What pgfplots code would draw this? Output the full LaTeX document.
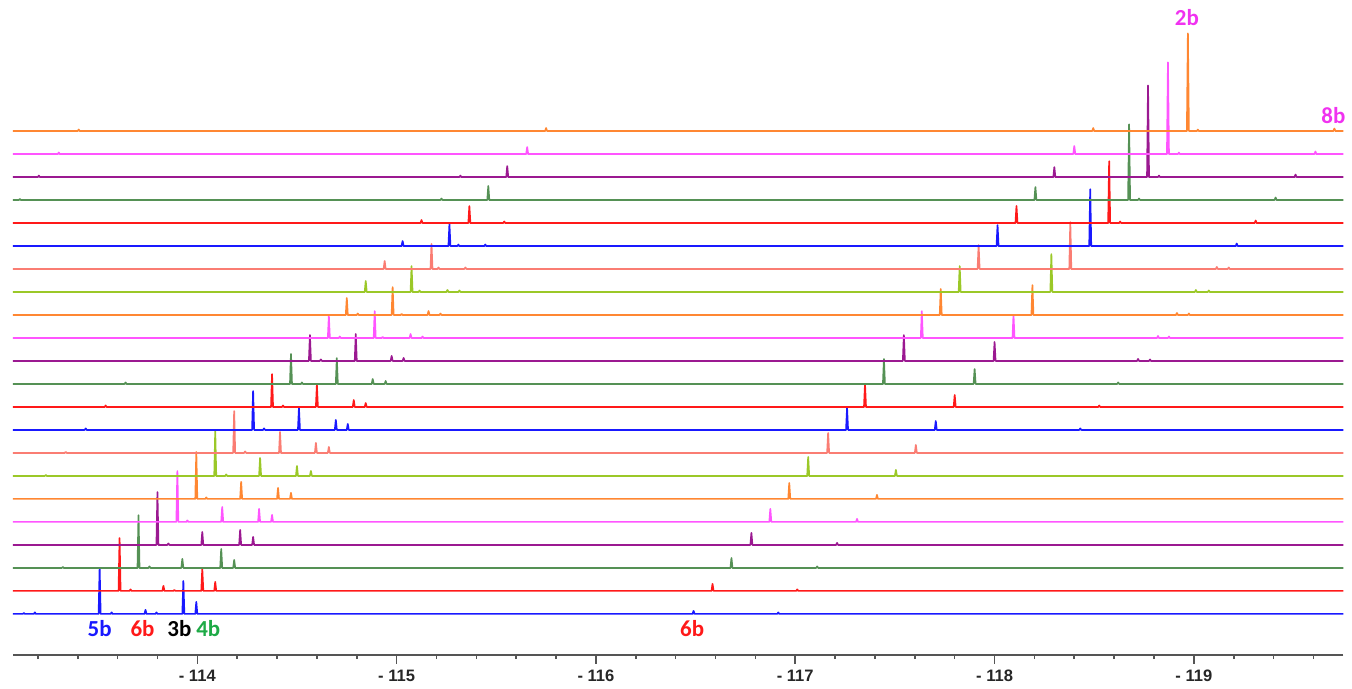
\documentclass[border=0pt]{standalone}
\usepackage{pgfplots}
\pgfplotsset{compat=1.18}
\usepackage{fontspec}
\setmainfont{Liberation Sans}
\newfontfamily\calfont{Carlito}
\definecolor{cBlue}{RGB}{25,25,255}
\definecolor{cRed}{RGB}{255,25,25}
\definecolor{cGreen}{RGB}{85,145,85}
\definecolor{cPurple}{RGB}{155,25,145}
\definecolor{cMagenta}{RGB}{255,85,255}
\definecolor{cOrange}{RGB}{255,135,50}
\definecolor{cYG}{RGB}{155,200,40}
\definecolor{cSalmon}{RGB}{250,125,115}
\definecolor{lGreen}{RGB}{30,170,70}
\definecolor{lMag}{RGB}{240,50,240}
\definecolor{axgray}{RGB}{85,85,85}
\begin{document}
\begin{tikzpicture}
\begin{axis}[
  x=100pt, y=0.5pt,
  x dir=reverse,
  xmin=-119.75, xmax=-113.075,
  ymin=0, ymax=657,
  clip=false,
  axis x line*=bottom,
  axis y line=none,
  ytick=\empty,
  x axis line style={axgray, line width=0.9pt, -},
  xtick={-114,-115,-116,-117,-118,-119},
  xticklabels={- 114,- 115,- 116,- 117,- 118,- 119},
  minor xtick={-113.2,-113.4,-113.6,-113.8,-114.2,-114.4,-114.6,-114.8,-115.2,-115.4,-115.6,-115.8,-116.2,-116.4,-116.6,-116.8,-117.2,-117.4,-117.6,-117.8,-118.2,-118.4,-118.6,-118.8,-119.2,-119.4,-119.6},
  tick align=outside,
  major tick length=4.5pt,
  minor tick length=2.2pt,
  every tick/.style={axgray, line width=0.8pt},
  xticklabel style={font=\fontsize{8.3}{9}\selectfont\bfseries, text=black!85, yshift=0.5pt},
  every axis plot/.append style={line width=0.85pt, line join=round, mark=none},
]
% spectrum 0 (blue)
\addplot[cBlue] table[row sep=\\, y expr=\thisrow{y}+41] {x y\\
-113.075 0\\
-113.125 0\\ -113.13 1\\ -113.135 0\\
-113.18 0\\ -113.185 1.5\\ -113.19 0\\
-113.505 0\\ -113.51 46\\ -113.515 0\\
-113.565 0\\ -113.57 1.5\\ -113.575 0\\
-113.735 0\\ -113.74 4\\ -113.745 0\\
-113.79 0\\ -113.795 1.5\\ -113.8 0\\
-113.925 0\\ -113.93 33\\ -113.935 0\\
-113.99 0\\ -113.995 12\\ -114 0\\
-116.485 0\\ -116.49 3\\ -116.495 0\\
-116.91 0\\ -116.915 1.5\\ -116.92 0\\
-119.75 0\\
};
% spectrum 1 (red)
\addplot[cRed] table[row sep=\\, y expr=\thisrow{y}+64.1] {x y\\
-113.075 0\\
-113.605 0\\ -113.61 53\\ -113.615 0\\
-113.66 0\\ -113.665 1.5\\ -113.67 0\\
-113.825 0\\ -113.83 5\\ -113.835 0\\
-113.88 0\\ -113.885 1\\ -113.89 0\\
-114.02 0\\ -114.025 22\\ -114.03 0\\
-114.085 0\\ -114.09 9\\ -114.095 0\\
-116.58 0\\ -116.585 7\\ -116.59 0\\
-117.005 0\\ -117.01 1.5\\ -117.015 0\\
-119.75 0\\
};
% spectrum 2 (green)
\addplot[cGreen] table[row sep=\\, y expr=\thisrow{y}+87.1] {x y\\
-113.075 0\\
-113.32 0\\ -113.325 1\\ -113.33 0\\
-113.7 0\\ -113.705 53\\ -113.71 0\\
-113.755 0\\ -113.76 1.5\\ -113.765 0\\
-113.92 0\\ -113.925 9\\ -113.93 0\\
-114.115 0\\ -114.12 19\\ -114.125 0\\
-114.18 0\\ -114.185 8\\ -114.19 0\\
-116.675 0\\ -116.68 10\\ -116.685 0\\
-117.105 0\\ -117.11 1.5\\ -117.115 0\\
-119.75 0\\
};
% spectrum 3 (purple)
\addplot[cPurple] table[row sep=\\, y expr=\thisrow{y}+110.2] {x y\\
-113.075 0\\
-113.795 0\\ -113.8 53\\ -113.805 0\\
-113.85 0\\ -113.855 1.5\\ -113.86 0\\
-114.02 0\\ -114.025 13\\ -114.03 0\\
-114.21 0\\ -114.215 15\\ -114.22 0\\
-114.275 0\\ -114.28 8\\ -114.285 0\\
-116.775 0\\ -116.78 12\\ -116.785 0\\
-117.205 0\\ -117.21 2\\ -117.215 0\\
-119.75 0\\
};
% spectrum 4 (magenta)
\addplot[cMagenta] table[row sep=\\, y expr=\thisrow{y}+133.3] {x y\\
-113.075 0\\
-113.895 0\\ -113.9 51\\ -113.905 0\\
-113.945 0\\ -113.95 1.5\\ -113.955 0\\
-114.12 0\\ -114.125 15\\ -114.13 0\\
-114.305 0\\ -114.31 13\\ -114.315 0\\
-114.37 0\\ -114.375 7\\ -114.38 0\\
-116.87 0\\ -116.875 13\\ -116.88 0\\
-117.305 0\\ -117.31 3\\ -117.315 0\\
-119.75 0\\
};
% spectrum 5 (orange)
\addplot[cOrange] table[row sep=\\, y expr=\thisrow{y}+156.4] {x y\\
-113.075 0\\
-113.99 0\\ -113.995 47\\ -114 0\\
-114.04 0\\ -114.045 1.5\\ -114.05 0\\
-114.215 0\\ -114.22 17\\ -114.225 0\\
-114.4 0\\ -114.405 11\\ -114.41 0\\
-114.465 0\\ -114.47 6\\ -114.475 0\\
-116.965 0\\ -116.97 16\\ -116.975 0\\
-117.405 0\\ -117.41 4\\ -117.415 0\\
-119.75 0\\
};
% spectrum 6 (yellow-green)
\addplot[cYG] table[row sep=\\, y expr=\thisrow{y}+179.4] {x y\\
-113.075 0\\
-113.235 0\\ -113.24 1\\ -113.245 0\\
-114.085 0\\ -114.09 45\\ -114.095 0\\
-114.14 0\\ -114.145 1.5\\ -114.15 0\\
-114.31 0\\ -114.315 18\\ -114.32 0\\
-114.495 0\\ -114.5 10\\ -114.505 0\\
-114.565 0\\ -114.57 5\\ -114.575 0\\
-117.06 0\\ -117.065 19\\ -117.07 0\\
-117.5 0\\ -117.505 6\\ -117.51 0\\
-119.75 0\\
};
% spectrum 7 (salmon)
\addplot[cSalmon] table[row sep=\\, y expr=\thisrow{y}+202.5] {x y\\
-113.075 0\\
-113.335 0\\ -113.34 1\\ -113.345 0\\
-114.18 0\\ -114.185 42\\ -114.19 0\\
-114.235 0\\ -114.24 1.5\\ -114.245 0\\
-114.41 0\\ -114.415 21\\ -114.42 0\\
-114.59 0\\ -114.595 10\\ -114.6 0\\
-114.655 0\\ -114.66 6\\ -114.665 0\\
-117.16 0\\ -117.165 20\\ -117.17 0\\
-117.6 0\\ -117.605 8\\ -117.61 0\\
-119.75 0\\
};
% spectrum 8 (blue)
\addplot[cBlue] table[row sep=\\, y expr=\thisrow{y}+225.6] {x y\\
-113.075 0\\
-113.435 0\\ -113.44 1.5\\ -113.445 0\\
-114.275 0\\ -114.28 39\\ -114.285 0\\
-114.33 0\\ -114.335 1.5\\ -114.34 0\\
-114.505 0\\ -114.51 22\\ -114.515 0\\
-114.69 0\\ -114.695 10\\ -114.7 0\\
-114.75 0\\ -114.755 6\\ -114.76 0\\
-117.255 0\\ -117.26 22\\ -117.265 0\\
-117.7 0\\ -117.705 9\\ -117.71 0\\
-118.425 0\\ -118.43 1.5\\ -118.435 0\\
-119.75 0\\
};
% spectrum 9 (red)
\addplot[cRed] table[row sep=\\, y expr=\thisrow{y}+248.6] {x y\\
-113.075 0\\
-113.535 0\\ -113.54 1.5\\ -113.545 0\\
-114.37 0\\ -114.375 33\\ -114.38 0\\
-114.425 0\\ -114.43 1.5\\ -114.435 0\\
-114.595 0\\ -114.6 22\\ -114.605 0\\
-114.78 0\\ -114.785 7\\ -114.79 0\\
-114.84 0\\ -114.845 4\\ -114.85 0\\
-117.345 0\\ -117.35 23\\ -117.355 0\\
-117.795 0\\ -117.8 12\\ -117.805 0\\
-118.52 0\\ -118.525 1.5\\ -118.53 0\\
-119.75 0\\
};
% spectrum 10 (green)
\addplot[cGreen] table[row sep=\\, y expr=\thisrow{y}+271.7] {x y\\
-113.075 0\\
-113.635 0\\ -113.64 1.5\\ -113.645 0\\
-114.465 0\\ -114.47 30\\ -114.475 0\\
-114.52 0\\ -114.525 1.5\\ -114.53 0\\
-114.695 0\\ -114.7 26\\ -114.705 0\\
-114.875 0\\ -114.88 5\\ -114.885 0\\
-114.94 0\\ -114.945 3\\ -114.95 0\\
-117.44 0\\ -117.445 25\\ -117.45 0\\
-117.895 0\\ -117.9 15\\ -117.905 0\\
-118.615 0\\ -118.62 1.5\\ -118.625 0\\
-119.75 0\\
};
% spectrum 11 (purple)
\addplot[cPurple] table[row sep=\\, y expr=\thisrow{y}+294.8] {x y\\
-113.075 0\\
-114.56 0\\ -114.565 26\\ -114.57 0\\
-114.615 0\\ -114.62 1.5\\ -114.625 0\\
-114.79 0\\ -114.795 27\\ -114.8 0\\
-114.97 0\\ -114.975 5\\ -114.98 0\\
-115.03 0\\ -115.035 3\\ -115.04 0\\
-117.54 0\\ -117.545 26\\ -117.55 0\\
-117.995 0\\ -118 19\\ -118.005 0\\
-118.715 0\\ -118.72 2\\ -118.725 0\\
-118.775 0\\ -118.78 1.5\\ -118.785 0\\
-119.75 0\\
};
% spectrum 12 (magenta)
\addplot[cMagenta] table[row sep=\\, y expr=\thisrow{y}+317.8] {x y\\
-113.075 0\\
-114.655 0\\ -114.66 22\\ -114.665 0\\
-114.71 0\\ -114.715 1.5\\ -114.72 0\\
-114.885 0\\ -114.89 27\\ -114.895 0\\
-114.925 0\\ -114.93 1\\ -114.935 0\\
-115.065 0\\ -115.07 4\\ -115.075 0\\
-115.125 0\\ -115.13 1.5\\ -115.135 0\\
-117.63 0\\ -117.635 27\\ -117.64 0\\
-118.09 0\\ -118.095 23\\ -118.1 0\\
-118.815 0\\ -118.82 2\\ -118.825 0\\
-118.87 0\\ -118.875 1.5\\ -118.88 0\\
-119.75 0\\
};
% spectrum 13 (orange)
\addplot[cOrange] table[row sep=\\, y expr=\thisrow{y}+340.9] {x y\\
-113.075 0\\
-114.745 0\\ -114.75 17\\ -114.755 0\\
-114.8 0\\ -114.805 1.5\\ -114.81 0\\
-114.975 0\\ -114.98 28\\ -114.985 0\\
-115.02 0\\ -115.025 1\\ -115.03 0\\
-115.155 0\\ -115.16 4\\ -115.165 0\\
-115.215 0\\ -115.22 1.5\\ -115.225 0\\
-117.725 0\\ -117.73 26\\ -117.735 0\\
-118.185 0\\ -118.19 30\\ -118.195 0\\
-118.91 0\\ -118.915 2\\ -118.92 0\\
-118.97 0\\ -118.975 1.5\\ -118.98 0\\
-119.75 0\\
};
% spectrum 14 (yellow-green)
\addplot[cYG] table[row sep=\\, y expr=\thisrow{y}+364] {x y\\
-113.075 0\\
-114.84 0\\ -114.845 11\\ -114.85 0\\
-115.07 0\\ -115.075 26\\ -115.08 0\\
-115.11 0\\ -115.115 1.5\\ -115.12 0\\
-115.25 0\\ -115.255 2\\ -115.26 0\\
-115.31 0\\ -115.315 1.5\\ -115.32 0\\
-117.82 0\\ -117.825 26\\ -117.83 0\\
-118.28 0\\ -118.285 38\\ -118.29 0\\
-119.005 0\\ -119.01 2\\ -119.015 0\\
-119.07 0\\ -119.075 1.5\\ -119.08 0\\
-119.75 0\\
};
% spectrum 15 (salmon)
\addplot[cSalmon] table[row sep=\\, y expr=\thisrow{y}+387.1] {x y\\
-113.075 0\\
-114.935 0\\ -114.94 8\\ -114.945 0\\
-115.17 0\\ -115.175 25\\ -115.18 0\\
-115.205 0\\ -115.21 1.5\\ -115.215 0\\
-115.34 0\\ -115.345 1.5\\ -115.35 0\\
-117.915 0\\ -117.92 24\\ -117.925 0\\
-118.375 0\\ -118.38 47\\ -118.385 0\\
-119.11 0\\ -119.115 2\\ -119.12 0\\
-119.17 0\\ -119.175 1.5\\ -119.18 0\\
-119.75 0\\
};
% spectrum 16 (blue)
\addplot[cBlue] table[row sep=\\, y expr=\thisrow{y}+410.1] {x y\\
-113.075 0\\
-115.025 0\\ -115.03 5\\ -115.035 0\\
-115.26 0\\ -115.265 22\\ -115.27 0\\
-115.305 0\\ -115.31 1.5\\ -115.315 0\\
-115.44 0\\ -115.445 1.5\\ -115.45 0\\
-118.01 0\\ -118.015 21\\ -118.02 0\\
-118.475 0\\ -118.48 57\\ -118.485 0\\
-119.21 0\\ -119.215 2.5\\ -119.22 0\\
-119.75 0\\
};
% spectrum 17 (red)
\addplot[cRed] table[row sep=\\, y expr=\thisrow{y}+433.2] {x y\\
-113.075 0\\
-115.12 0\\ -115.125 3\\ -115.13 0\\
-115.36 0\\ -115.365 17\\ -115.37 0\\
-115.535 0\\ -115.54 1.5\\ -115.545 0\\
-118.105 0\\ -118.11 17\\ -118.115 0\\
-118.57 0\\ -118.575 62\\ -118.58 0\\
-118.625 0\\ -118.63 1.5\\ -118.635 0\\
-119.305 0\\ -119.31 2.5\\ -119.315 0\\
-119.75 0\\
};
% spectrum 18 (green)
\addplot[cGreen] table[row sep=\\, y expr=\thisrow{y}+456.3] {x y\\
-113.075 0\\
-113.105 0\\ -113.11 1\\ -113.115 0\\
-115.22 0\\ -115.225 1.5\\ -115.23 0\\
-115.455 0\\ -115.46 14\\ -115.465 0\\
-118.2 0\\ -118.205 13\\ -118.21 0\\
-118.67 0\\ -118.675 76\\ -118.68 0\\
-118.72 0\\ -118.725 1.5\\ -118.73 0\\
-119.405 0\\ -119.41 2.5\\ -119.415 0\\
-119.75 0\\
};
% spectrum 19 (purple)
\addplot[cPurple] table[row sep=\\, y expr=\thisrow{y}+479.3] {x y\\
-113.075 0\\
-113.2 0\\ -113.205 1.5\\ -113.21 0\\
-115.315 0\\ -115.32 1.5\\ -115.325 0\\
-115.55 0\\ -115.555 11\\ -115.56 0\\
-118.295 0\\ -118.3 10\\ -118.305 0\\
-118.765 0\\ -118.77 92\\ -118.775 0\\
-118.82 0\\ -118.825 1.5\\ -118.83 0\\
-119.505 0\\ -119.51 2.5\\ -119.515 0\\
-119.75 0\\
};
% spectrum 20 (magenta)
\addplot[cMagenta] table[row sep=\\, y expr=\thisrow{y}+502.4] {x y\\
-113.075 0\\
-113.3 0\\ -113.305 1.5\\ -113.31 0\\
-115.65 0\\ -115.655 7\\ -115.66 0\\
-118.395 0\\ -118.4 8\\ -118.405 0\\
-118.865 0\\ -118.87 92\\ -118.875 0\\
-118.92 0\\ -118.925 1.5\\ -118.93 0\\
-119.605 0\\ -119.61 2.5\\ -119.615 0\\
-119.75 0\\
};
% spectrum 21 (orange)
\addplot[cOrange] table[row sep=\\, y expr=\thisrow{y}+525.5] {x y\\
-113.075 0\\
-113.4 0\\ -113.405 1.5\\ -113.41 0\\
-115.745 0\\ -115.75 3\\ -115.755 0\\
-118.49 0\\ -118.495 3\\ -118.5 0\\
-118.965 0\\ -118.97 98\\ -118.975 0\\
-119.015 0\\ -119.02 1.5\\ -119.025 0\\
-119.7 0\\ -119.705 2.5\\ -119.71 0\\
-119.75 0\\
};
% labels
\node[font=\calfont\bfseries\fontsize{11.5}{13}\selectfont, text=cBlue] at (axis cs:-113.51,26) {5b};
\node[font=\calfont\bfseries\fontsize{11.5}{13}\selectfont, text=cRed] at (axis cs:-113.725,26) {6b};
\node[font=\calfont\bfseries\fontsize{11.5}{13}\selectfont, text=black] at (axis cs:-113.91,26) {3b};
\node[font=\calfont\bfseries\fontsize{11.5}{13}\selectfont, text=lGreen] at (axis cs:-114.055,26) {4b};
\node[font=\calfont\bfseries\fontsize{11.5}{13}\selectfont, text=cRed] at (axis cs:-116.4825,26) {6b};
\node[font=\calfont\bfseries\fontsize{11.5}{13}\selectfont, text=lMag] at (axis cs:-118.965,639) {2b};
\node[font=\calfont\bfseries\fontsize{11.5}{13}\selectfont, text=lMag] at (axis cs:-119.70,541) {8b};
\path (axis cs:-113.01,-28) rectangle (axis cs:-119.77,657);
\end{axis}
\end{tikzpicture}
\end{document}
